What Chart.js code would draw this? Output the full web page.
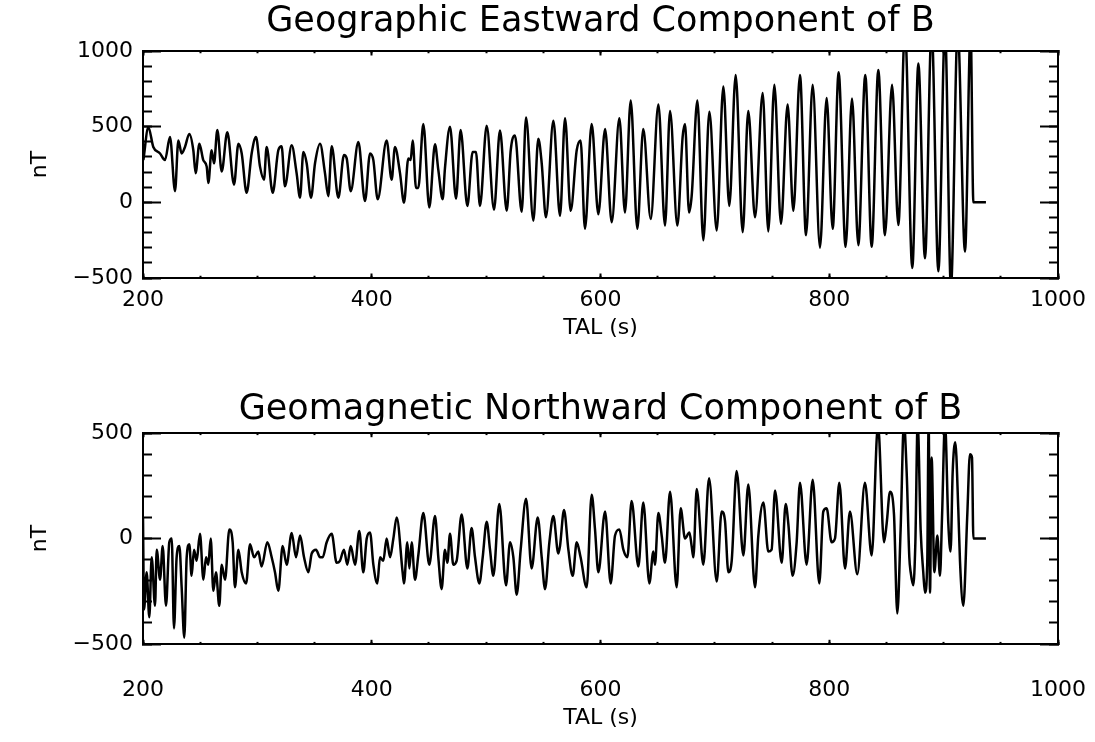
<!DOCTYPE html>
<html><head><meta charset="utf-8">
<script src="https://cdn.jsdelivr.net/npm/chart.js@4.4.1/dist/chart.umd.min.js"></script>
<style>
html,body{margin:0;padding:0;background:#fff;}
#c1{position:absolute;left:0;top:0;}
#c2{position:absolute;left:0;top:370px;}
</style></head>
<body>
<canvas id="c1" width="1095" height="370"></canvas>
<canvas id="c2" width="1095" height="372"></canvas>
<script>
// ---- data ----
const xTickValues = [200, 400, 600, 800, 1000];
const eastYTicks = [-500, 0, 500, 1000];
const northYTicks = [-500, 0, 500];
const titleEast = 'Geographic Eastward Component of B';
const titleNorth = 'Geomagnetic Northward Component of B';
const xTitle = 'TAL (s)';
const yTitle = 'nT';

const eastTime = [200.3,204.7,209.0,214.9,219.2,223.6,228.0,230.9,233.8,236.7,240.5,244.0,246.0,249.3,252.7,255.7,257.1,260.0,262.1,265.0,268.8,273.7,279.6,283.4,286.3,290.6,295.0,298.8,302.3,305.8,308.1,313.4,318.3,321.2,324.1,330.0,334.3,337.3,340.2,343.1,346.9,350.4,354.8,359.1,362.0,365.0,370.8,375.7,378.1,381.6,388.3,394.1,398.5,401.4,405.2,413.0,417.4,420.3,424.7,
428.2,432.0,434.0,435.8,438.7,440.7,445.1,450.3,455.3,458.2,462.0,464.0,468.4,473.7,477.7,483.6,488.2,491.1,494.6,500.5,506.9,512.1,518.0,521.5,525.2,531.1,534.9,541.3,545.6,548.6,552.3,558.8,564.6,569.0,573.9,579.2,582.6,586.4,592.3,598.1,604.0,609.8,616.5,621.4,626.4,632.2,
637.4,643.9,650.6,656.4,660.8,667.2,671.8,673.9,677.4,679.7,684.7,689.9,695.2,701.6,707.4,712.6,718.2,724.3,729.2,735.1,741.8,746.7,752.0,757.8,763.6,768.6,774.4,779.7,785.5,791.9,797.7,803.0,808.2,814.3,819.9,825.4,831.5,837.1,842.9,848.7,854.9,
860.4,866.2,872.6,877.9,883.7,889.5,895.4,901.2,906.4,912.3,918.7,923.6,926.0,937.0];
const eastValue = [279,496,366,323,279,431,74,409,323,366,452,344,193,387,279,236,128,344,258,478,204,463,117,387,323,63,323,431,236,150,366,63,344,370,106,377,193,31,333,258,31,258,387,193,41,370,31,312,290,74,398,9,323,279,20,409,150,366,193,
-2,290,279,409,95,95,517,-34,383,214,20,225,500,24,478,-24,333,333,-24,506,-49,474,-56,344,442,-62,561,-121,420,258,-99,539,-88,556,-56,344,409,-175,517,-78,485,-132,556,-67,673,-175,
485,-110,647,-153,604,-153,431,517,-67,41,673,-251,599,-186,766,-24,842,-197,604,-99,723,-192,777,-142,647,-56,842,-218,777,-300,690,-175,859,-294,686,-283,842,-294,874,-218,777,
-150,1150,-434,917,-370,1150,-456,1150,-560,1150,-326,1150,0,0];

const northTime = [200.0,200.9,203.2,205.5,207.6,210.5,212.0,214.9,217.2,220.1,223.0,225.1,227.1,229.4,231.8,233.8,236.1,238.2,240.5,242.5,244.6,246.9,249.8,252.8,255.1,257.1,259.2,261.5,263.8,266.7,268.8,271.7,275.5,278.4,280.4,283.4,286.3,290.1,293.6,297.1,300.8,303.7,308.7,312.5,315.4,318.3,322.1,325.6,330.0,333.8,337.3,340.8,344.6,347.5,351.3,354.8,357.1,360.6,365.0,369.3,372.2,375.7,378.6,381.6,385.4,389.1,392.6,395.6,398.5,401.4,404.9,407.2,410.1,413.0,416.0,418.9,421.8,
427.0,428.2,431.1,432.9,434.9,437.8,440.7,445.1,450.3,455.3,458.2,461.1,464.0,466.1,468.4,471.3,474.2,478.6,483.6,487.3,490.3,494.1,497.0,500.5,503.4,506.3,511.5,517.4,520.9,523.8,526.7,530.2,534.9,539.8,545.1,548.6,551.5,555.3,558.8,563.1,564.6,568.1,571.9,575.7,579.2,582.6,587.9,592.3,595.2,598.1,604.0,608.9,612.7,616.5,620.0,623.5,627.2,633.1,637.4,642.7,
646.2,647.6,650.6,653.5,656.4,660.8,666.6,670.1,673.9,677.7,679.7,681.2,684.1,689.9,694.9,701.6,705.9,708.8,711.8,714.7,719.0,724.9,729.2,735.1,738.0,742.4,746.7,749.6,752.6,758.4,761.9,764.2,768.0,771.5,774.4,780.2,785.5,791.3,794.8,797.7,802.1,805.0,808.8,813.8,818.1,824.5,831.2,837.1,842.6,847.9,850.2,853.1,856.6,
859.5,862.4,865.3,867.7,870.0,871.2,873.5,875.3,877.3,879.9,882.2,883.7,885.7,886.9,888.1,889.5,891.9,894.5,896.8,898.6,901.2,904.1,906.1,907.9,910.2,912.8,914.3,917.2,920.7,923.0,924.8,926.0,937.0];
const northValue = [100,-337,-160,-373,-89,-319,-53,-195,-36,-319,-18,0,-426,-89,-36,-231,-470,-89,-27,-177,-53,-106,22,-195,-89,-124,0,-248,-160,-319,-124,-195,43,-18,-231,-53,-160,-213,-27,-89,-62,-133,-18,-89,-160,-248,-36,-124,26,-89,14,-89,-160,-71,-53,-89,-89,-18,22,-115,-106,-53,-124,-36,-124,36,-160,0,29,-124,-213,-89,-106,0,-89,0,100,
-160,-213,-18,-142,-18,-195,-80,121,-124,107,-89,-240,-53,-115,22,-124,-106,114,-142,50,-89,-213,-89,79,-53,-177,164,-222,-18,-89,-266,-53,188,-142,100,-89,-240,-18,107,-71,-36,135,-53,-177,-18,-89,-231,207,43,-160,128,-213,14,43,-53,-89,178,-133,171,-213,
-62,-124,121,14,-115,221,-231,143,0,29,-36,-89,235,-124,285,-204,128,86,-160,-106,320,-80,256,-231,14,171,-62,-53,228,-115,164,71,-177,-18,264,-124,278,-213,128,143,-18,0,264,-142,128,-169,264,-80,540,-18,71,221,114,
-355,43,550,313,-89,-160,-222,-18,550,43,-160,-257,-106,550,-257,384,-160,14,-177,100,550,71,-62,313,456,143,-106,-319,114,399,384,0,0];

// ---- chart construction ----
const FONT = "'DejaVu Sans', 'Liberation Sans', sans-serif";
const BLACK = '#000';
const fmt = v => String(v).replace('-', '\u2212');

function makePanel(canvas, p) {
  const tickFont = {family: FONT, size: 22, weight: 'normal', lineHeight: 1.2};
  const axis = (pos, weight, min, max, extra) => Object.assign({
    type: 'linear', position: pos, weight: weight, min: min, max: max,
    border: {display: true, color: BLACK, width: 2},
  }, extra);
  const noLabels = (step) => ({display: false, stepSize: step});
  const tickGrid = (len) => ({drawOnChartArea: false, drawTicks: true, tickLength: len, tickWidth: 2, tickColor: BLACK, color: BLACK});
  const noPad = s => { s.paddingLeft = 0; s.paddingRight = 0; s.paddingTop = 0; s.paddingBottom = 0; };
  const H0 = s => { s.height = 0; noPad(s); };
  const W0 = s => { s.width = 0; noPad(s); };
  const fromList = list => s => { s.ticks = list.map(v => ({value: v})); };

  return new Chart(canvas, {
    type: 'line',
    data: {datasets: [{
      data: p.time.map((t, i) => ({x: t, y: p.value[i]})),
      borderColor: BLACK, borderWidth: 2.5, pointRadius: 0,
      cubicInterpolationMode: 'monotone', fill: false
    }]},
    options: {
      responsive: false, animation: false, events: [],
      layout: {padding: {left: 0, right: 37, top: 0, bottom: 0}},
      plugins: {
        legend: {display: false}, tooltip: {enabled: false},
        title: {display: true, fullSize: false, text: p.title, color: BLACK,
          font: {family: FONT, size: 35, weight: 'normal', lineHeight: 1.2},
          padding: {top: p.titleTop, bottom: p.titleBottom}}
      },
      scales: {
        x: axis('bottom', 1, 200, 1000, {
          afterBuildTicks: fromList(xTickValues),
          ticks: {color: BLACK, font: tickFont, padding: p.xLabelPad, maxRotation: 0, autoSkip: false, callback: fmt},
          grid: tickGrid(-p.xTick),
          title: {display: true, text: xTitle, color: BLACK, font: tickFont, padding: {top: 0, bottom: p.xTitlePad}},
          afterFit: s => { s.height = p.xHeight; noPad(s); }
        }),
        xMinor: axis('bottom', 0, 200, 1000, {ticks: noLabels(50), grid: tickGrid(-p.xTick / 2), afterFit: H0}),
        xTop: axis('top', 1, 200, 1000, {afterBuildTicks: fromList(xTickValues), ticks: {display: false}, grid: tickGrid(-p.xTick), afterFit: H0}),
        xTopMinor: axis('top', 0, 200, 1000, {ticks: noLabels(50), grid: tickGrid(-p.xTick / 2), afterFit: H0}),
        y: axis('left', 1, p.yMin, p.yMax, {
          afterBuildTicks: fromList(p.yTicks),
          ticks: {color: BLACK, font: tickFont, padding: 28, autoSkip: false, callback: fmt},
          grid: tickGrid(-18),
          title: {display: true, text: yTitle, color: BLACK, font: tickFont, padding: {top: 26.8, bottom: 0}},
          afterFit: s => { s.width = 143; noPad(s); }
        }),
        yMinor: axis('left', 0, p.yMin, p.yMax, {ticks: noLabels(100), grid: tickGrid(-9), afterFit: W0}),
        yRight: axis('right', 1, p.yMin, p.yMax, {afterBuildTicks: fromList(p.yTicks), ticks: {display: false}, grid: tickGrid(-18), afterFit: W0}),
        yRightMinor: axis('right', 0, p.yMin, p.yMax, {ticks: noLabels(100), grid: tickGrid(-9), afterFit: W0})
      }
    }
  });
}

makePanel(document.getElementById('c1'), {
  time: eastTime, value: eastValue, title: titleEast,
  yMin: -500, yMax: 1000, yTicks: eastYTicks,
  titleTop: 0.5, titleBottom: 8.5,
  xTick: 4.5, xLabelPad: 13.3, xTitlePad: 28.8, xHeight: 92
});
makePanel(document.getElementById('c2'), {
  time: northTime, value: northValue, title: titleNorth,
  yMin: -500, yMax: 500, yTicks: northYTicks,
  titleTop: 19, titleBottom: 2,
  xTick: 4.2, xLabelPad: 37, xTitlePad: 10.8, xHeight: 98
});
</script>
</body></html>
